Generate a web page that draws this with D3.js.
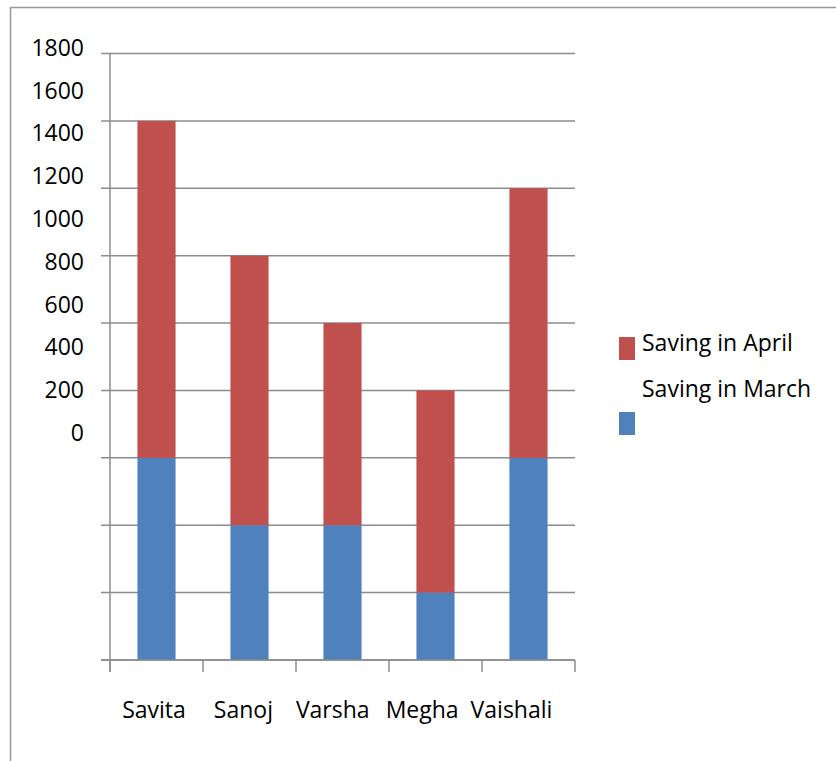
<!DOCTYPE html>
<html>
<head>
<meta charset="utf-8">
<script src="https://cdn.jsdelivr.net/npm/d3@7"></script>
<style>
  body { margin: 0; background: #fff; }
  text { font-family: "Open Sans", "Noto Sans", sans-serif; fill: #000; }
</style>
</head>
<body>
<script>
var svg_width = 836;
var svg_height = 761;

var names = ['Savita', 'Sanoj', 'Varsha', 'Megha', 'Vaishali'];
var march = [600, 400, 400, 200, 600];
var april = [1000, 800, 600, 600, 800];
var seriesNames = ['Saving in April', 'Saving in March'];
var tickValues = [0, 200, 400, 600, 800, 1000, 1200, 1400, 1600, 1800];

var red = '#c0504d';
var blue = '#4f81bd';
var gridColor = '#8c8c8c';
var fontSize = '23px';

var plot_left = 110;
var plot_right = 575;
var plot_top = 53.5;
var plot_bottom = 660;

var svg = d3.select('body').append('svg')
            .attr('width', svg_width)
            .attr('height', svg_height);

// outer chart border (only top and left edges show)
svg.append('rect')
    .attr('x', 10.5).attr('y', 7.5)
    .attr('width', 900).attr('height', 900)
    .attr('fill', 'none')
    .attr('stroke', '#999')
    .attr('stroke-width', 1.5);

var xscale = d3.scaleBand().domain(names).range([plot_left, plot_right]).paddingInner(0.59).paddingOuter(0.295);
var xstep = d3.scaleBand().domain(names).range([plot_left, plot_right]);
var yscale = d3.scaleLinear().domain([0, 1800]).range([plot_bottom, plot_top]);
// the tick labels sit on their own (offset) spacing in the original
var labelScale = d3.scaleLinear().domain([0, 1800]).range([433, 48]);
var xlabelScale = d3.scalePoint().domain(names).range([154, 511.5]);

// gridlines
svg.append('g').selectAll('line')
    .data(tickValues)
    .join('line')
    .attr('x1', plot_left - 9).attr('x2', plot_right)
    .attr('y1', d => yscale(d)).attr('y2', d => yscale(d))
    .attr('stroke', gridColor).attr('stroke-width', 1.5);

// bars
var stacked = names.map(function(n, i) { return { name: n, march: march[i], april: april[i] }; });

svg.append('g').selectAll('rect')
    .data(stacked)
    .join('rect')
    .attr('x', d => xscale(d.name))
    .attr('width', xscale.bandwidth())
    .attr('y', d => yscale(d.march))
    .attr('height', d => plot_bottom - yscale(d.march))
    .attr('fill', blue);

svg.append('g').selectAll('rect')
    .data(stacked)
    .join('rect')
    .attr('x', d => xscale(d.name))
    .attr('width', xscale.bandwidth())
    .attr('y', d => yscale(d.march + d.april))
    .attr('height', d => yscale(d.march) - yscale(d.march + d.april))
    .attr('fill', red);

// axis lines
svg.append('line')
    .attr('x1', plot_left).attr('x2', plot_left)
    .attr('y1', plot_top).attr('y2', plot_bottom + 12)
    .attr('stroke', gridColor).attr('stroke-width', 1.5);
svg.append('line')
    .attr('x1', plot_left - 9).attr('x2', plot_right)
    .attr('y1', plot_bottom).attr('y2', plot_bottom)
    .attr('stroke', gridColor).attr('stroke-width', 1.5);

var xticks = names.map(n => xstep(n)).concat([plot_right]);
svg.append('g').selectAll('line')
    .data(xticks)
    .join('line')
    .attr('x1', d => d).attr('x2', d => d)
    .attr('y1', plot_bottom).attr('y2', plot_bottom + 12)
    .attr('stroke', gridColor).attr('stroke-width', 1.5);

// y tick labels
var yaxis = d3.axisLeft(labelScale).tickValues(tickValues).tickFormat(d3.format('d')).tickSize(0).tickPadding(0);
var yg = svg.append('g')
    .attr('transform', 'translate(84, 0)')
    .call(yaxis);
yg.select('.domain').remove();
yg.selectAll('text')
    .style('font-family', '"Open Sans", "Noto Sans", sans-serif')
    .style('font-size', fontSize)
    .attr('fill', '#000');

// x labels
svg.append('g').selectAll('text')
    .data(names)
    .join('text')
    .attr('x', d => xlabelScale(d))
    .attr('y', 710)
    .attr('dy', '0.35em')
    .attr('text-anchor', 'middle')
    .style('font-size', fontSize)
    .text(d => d);

// legend
var legend = svg.append('g');
legend.append('rect').attr('x', 619).attr('y', 337).attr('width', 16).attr('height', 23).attr('fill', red);
legend.append('rect').attr('x', 619).attr('y', 412).attr('width', 16).attr('height', 23).attr('fill', blue);
legend.selectAll('text')
    .data(seriesNames)
    .join('text')
    .attr('x', 642)
    .attr('y', (d, i) => i === 0 ? 343 : 389)
    .attr('dy', '0.35em')
    .style('font-size', fontSize)
    .text(d => d);
</script>
</body>
</html>
